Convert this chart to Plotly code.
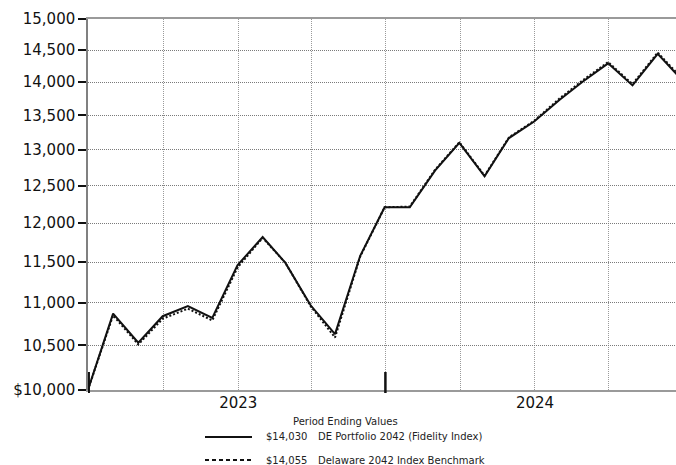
import math
import plotly.graph_objects as go

# Month-end valuation dates (hypothetical growth of $10,000)
dates = [
    "2022-06-30", "2022-07-31", "2022-08-31", "2022-09-30", "2022-10-31",
    "2022-11-30", "2022-12-31", "2023-01-31", "2023-02-28", "2023-03-31",
    "2023-04-30", "2023-05-31", "2023-06-30", "2023-07-31", "2023-08-31",
    "2023-09-30", "2023-10-31", "2023-11-30", "2023-12-31", "2024-01-31",
    "2024-02-29", "2024-03-31", "2024-04-30", "2024-05-31", "2024-06-30",
]

portfolio_name = "DE Portfolio 2042 (Fidelity Index)"
portfolio_values = [
    10000, 10870, 10530, 10840, 10960, 10820, 11460, 11820, 11490, 10970,
    10630, 11580, 12210, 12210, 12710, 13100, 12630, 13170, 13410, 13730,
    14010, 14290, 13950, 14440, 14030,
]

benchmark_name = "Delaware 2042 Index Benchmark"
benchmark_values = [
    10000, 10850, 10510, 10810, 10930, 10790, 11430, 11810, 11490, 10960,
    10590, 11570, 12210, 12220, 12720, 13110, 12640, 13180, 13420, 13750,
    14030, 14310, 13970, 14460, 14055,
]

y_tick_values = [10000, 10500, 11000, 11500, 12000, 12500, 13000, 13500, 14000, 14500, 15000]
y_tick_text = ["$10,000", "10,500", "11,000", "11,500", "12,000", "12,500",
               "13,000", "13,500", "14,000", "14,500", "15,000"]

x_tick_values = ["2023-01-01", "2024-01-01"]
x_tick_text = ["2023", "2024"]

# Fiscal half-year markers drawn on the date axis
half_year_marks = ["2022-07-01", "2023-07-01"]

legend_title = "Period Ending Values"

# ---- layout geometry ----
W, H = 676, 465
M_L, M_R, M_T, M_B = 88, 0, 19, 75
FONT = "DejaVu Sans"
GRID_DASH = "1px,1px"


def paper_x(px):
    return (px - M_L) / (W - M_L - M_R)


def paper_y(py):
    return (H - M_B - py) / (H - M_T - M_B)


fig = go.Figure()

fig.add_trace(go.Scatter(
    x=dates, y=benchmark_values, mode="lines", name=benchmark_name,
    line=dict(color="#111111", width=2, dash="2px,2px"),
    showlegend=False,
))
fig.add_trace(go.Scatter(
    x=dates, y=portfolio_values, mode="lines", name=portfolio_name,
    line=dict(color="#111111", width=2),
    showlegend=False,
))

fig.update_layout(
    width=W, height=H,
    margin=dict(l=M_L, r=M_R, t=M_T, b=M_B),
    paper_bgcolor="white", plot_bgcolor="white",
    font=dict(family=FONT, color="#111111"),
    xaxis=dict(
        type="date",
        range=["2022-06-30 03:00", "2024-06-22 12:00"],
        tickmode="array", tickvals=x_tick_values, ticktext=x_tick_text,
        ticks="", ticklabelstandoff=-2,
        tickfont=dict(size=15, family=FONT, color="#111111"),
        showgrid=True, gridcolor="#9a9a9a", griddash=GRID_DASH, gridwidth=1,
        minor=dict(dtick="M3", tick0="2022-07-01", showgrid=True,
                   gridcolor="#9a9a9a", griddash=GRID_DASH, gridwidth=1, ticks=""),
        showline=True, linecolor="#9a9a9a", linewidth=2, mirror=True,
        zeroline=False,
    ),
    yaxis=dict(
        type="log",
        range=[math.log10(10000), math.log10(15000)],
        tickmode="array", tickvals=y_tick_values, ticktext=y_tick_text,
        ticks="outside", ticklen=8, tickwidth=2, tickcolor="#111111",
        tickfont=dict(size=15, family=FONT, color="#111111"),
        showgrid=True, gridcolor="#7a7a7a", griddash=GRID_DASH, gridwidth=1,
        showline=True, linecolor="#808080", linewidth=1.5,
        zeroline=False,
    ),
)

# half-year marker ticks
for d in half_year_marks:
    fig.add_shape(type="line", xref="x", yref="paper",
                  x0=d, x1=d, y0=paper_y(393), y1=paper_y(372),
                  line=dict(color="#111111", width=2.5), layer="above")

# custom legend block
fig.add_annotation(text=legend_title, xref="paper", yref="paper",
                   x=paper_x(345), y=paper_y(421), xanchor="center", yanchor="middle",
                   showarrow=False, font=dict(size=10, family=FONT, color="#222222"))

legend_rows = [
    (portfolio_values[-1], portfolio_name, "solid", 437),
    (benchmark_values[-1], benchmark_name, "4px,3px", 460),
]
for value, name, dash, row_y in legend_rows:
    fig.add_shape(type="line", xref="paper", yref="paper",
                  x0=paper_x(205), x1=paper_x(252),
                  y0=paper_y(row_y), y1=paper_y(row_y),
                  line=dict(color="#111111", width=2, dash=dash))
    fig.add_annotation(text=f"${value:,}", xref="paper", yref="paper",
                       x=paper_x(264), y=paper_y(row_y), xanchor="left", yanchor="middle",
                       showarrow=False, font=dict(size=10, family=FONT, color="#222222"))
    fig.add_annotation(text=name, xref="paper", yref="paper",
                       x=paper_x(316), y=paper_y(row_y), xanchor="left", yanchor="middle",
                       showarrow=False, font=dict(size=10, family=FONT, color="#222222"))

fig.write_html("out.html")
